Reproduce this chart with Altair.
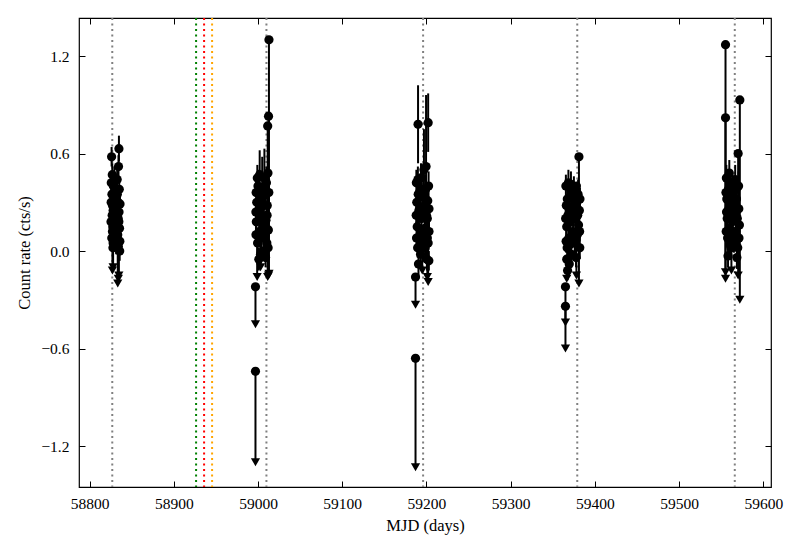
import altair as alt
import pandas as pd

# Each cluster: (MJD, count rate, error, upper-limit flag)
cluster1 = [
    (58826.2, 0.58, 0.06, 0), (58827.0, 0.47, 0.07, 0), (58826.6, 0.35, 0.08, 0),
    (58827.3, 0.28, 0.07, 0), (58826.9, 0.22, 0.06, 0), (58827.6, 0.15, 0.07, 0),
    (58826.4, 0.08, 0.06, 0), (58827.8, 0.02, 0.08, 0), (58828.3, 0.40, 0.07, 0),
    (58828.8, 0.31, 0.08, 0), (58829.2, 0.19, 0.06, 0), (58829.8, 0.10, 0.07, 0),
    (58830.4, 0.26, 0.08, 0), (58831.0, 0.36, 0.07, 0), (58831.6, 0.05, 0.07, 0),
    (58832.2, 0.21, 0.06, 0), (58832.8, 0.44, 0.08, 0), (58833.3, 0.13, 0.07, 0),
    (58833.8, 0.30, 0.06, 0), (58834.4, 0.52, 0.07, 0), (58834.9, 0.63, 0.08, 0),
    (58835.3, 0.38, 0.07, 0), (58835.8, 0.00, 0.06, 0), (58835.0, 0.24, 0.07, 0),
    (58825.8, 0.42, 0.07, 0), (58825.5, 0.18, 0.06, 0), (58825.7, 0.30, 0.07, 0),
    (58828.6, 0.12, 0.06, 0), (58830.0, 0.33, 0.07, 0), (58830.8, 0.16, 0.06, 0),
    (58831.4, 0.27, 0.07, 0), (58832.5, 0.09, 0.06, 0), (58833.0, 0.35, 0.07, 0),
    (58834.0, 0.20, 0.06, 0), (58835.6, 0.14, 0.07, 0), (58836.2, 0.29, 0.06, 0),
    (58836.0, 0.06, 0.07, 0), (58829.5, 0.45, 0.07, 0), (58828.0, 0.25, 0.06, 0),
    (58827.2, 0.12, 0.24, 1), (58828.0, 0.05, 0.15, 1), (58833.5, 0.10, 0.30, 1),
    (58834.2, 0.03, 0.20, 1), (58834.8, 0.18, 0.33, 1),
]
cluster2 = [
    (58997.0, -0.22, 0.23, 1), (58997.0, -0.74, 0.56, 1), (59013.0, 1.30, 1.44, 1),
    (59012.5, 0.83, 0.98, 1), (59011.5, 0.77, 0.93, 1), (58999.0, 0.10, 0.26, 1),
    (59003.0, 0.20, 0.30, 1),
    (58998.5, 0.30, 0.08, 0), (58998.0, 0.18, 0.07, 0), (58999.5, 0.05, 0.06, 0),
    (59000.0, 0.40, 0.10, 0), (59000.5, 0.25, 0.07, 0), (59001.0, -0.05, 0.07, 0),
    (59001.5, 0.12, 0.06, 0), (59002.0, 0.47, 0.15, 0), (59003.5, 0.33, 0.08, 0),
    (59004.0, 0.08, 0.07, 0), (59004.5, 0.22, 0.06, 0), (59005.0, 0.38, 0.20, 0),
    (59005.8, 0.15, 0.07, 0), (59006.5, 0.00, 0.06, 0), (59007.0, 0.28, 0.08, 0),
    (59007.6, 0.45, 0.18, 0), (59008.2, 0.10, 0.07, 0), (59008.8, 0.35, 0.08, 0),
    (59009.4, 0.19, 0.06, 0), (59010.0, 0.42, 0.10, 0), (59010.5, 0.05, 0.07, 0),
    (59011.0, 0.28, 0.09, 0), (59011.8, 0.48, 0.10, 0), (59012.3, 0.13, 0.08, 0),
    (58997.8, 0.36, 0.07, 0), (58997.5, 0.24, 0.06, 0), (58997.6, 0.10, 0.07, 0),
    (58999.2, 0.45, 0.08, 0), (59002.5, 0.30, 0.07, 0), (59003.0, -0.02, 0.06, 0),
    (59006.0, 0.34, 0.07, 0), (59009.0, -0.04, 0.06, 0), (59010.8, 0.22, 0.07, 0),
    (59012.8, 0.36, 0.08, 0), (59012.0, 0.02, 0.07, 0), (59008.0, 0.40, 0.08, 0),
]
cluster3 = [
    (59187.0, -0.66, 0.67, 1), (59187.0, -0.16, 0.17, 1), (59202.0, 0.05, 0.24, 1),
    (59201.0, 0.20, 0.36, 1), (59195.0, 0.10, 0.22, 1),
    (59190.0, 0.78, 0.24, 0), (59202.0, 0.79, 0.18, 0), (59199.5, 0.52, 0.44, 0),
    (59197.0, 0.50, 0.25, 0), (59188.0, 0.42, 0.08, 0), (59188.5, 0.30, 0.07, 0),
    (59189.0, 0.15, 0.07, 0), (59189.5, 0.02, 0.06, 0), (59190.5, -0.08, 0.07, 0),
    (59191.0, 0.25, 0.08, 0), (59192.0, 0.36, 0.07, 0), (59192.5, 0.10, 0.06, 0),
    (59193.0, -0.02, 0.07, 0), (59194.0, 0.20, 0.08, 0), (59195.5, 0.33, 0.07, 0),
    (59196.5, 0.05, 0.06, 0), (59197.5, 0.28, 0.08, 0), (59198.0, 0.14, 0.07, 0),
    (59199.0, 0.38, 0.09, 0), (59200.0, 0.22, 0.07, 0), (59200.5, -0.05, 0.07, 0),
    (59201.5, 0.31, 0.08, 0), (59202.5, 0.40, 0.09, 0), (59203.0, 0.12, 0.07, 0),
    (59193.5, 0.45, 0.09, 0),
    (59187.8, 0.22, 0.07, 0), (59188.2, 0.08, 0.06, 0), (59190.2, 0.35, 0.07, 0),
    (59191.5, 0.03, 0.06, 0), (59194.5, 0.38, 0.07, 0), (59196.0, 0.24, 0.06, 0),
    (59198.5, 0.02, 0.07, 0), (59199.8, 0.30, 0.06, 0), (59201.0, 0.08, 0.07, 0),
    (59203.0, 0.26, 0.07, 0), (59202.8, -0.06, 0.06, 0), (59189.8, 0.44, 0.08, 0),
]
cluster4 = [
    (59365.0, -0.34, 0.26, 1), (59365.0, -0.22, 0.22, 1), (59381.0, 0.58, 0.78, 1),
    (59378.0, 0.40, 0.55, 1), (59366.5, -0.05, 0.12, 1),
    (59365.5, 0.40, 0.07, 0), (59366.0, 0.28, 0.07, 0), (59366.5, 0.15, 0.06, 0),
    (59367.0, 0.02, 0.07, 0), (59367.5, -0.12, 0.06, 0), (59368.0, 0.22, 0.08, 0),
    (59368.5, 0.42, 0.08, 0), (59369.0, 0.08, 0.06, 0), (59370.0, 0.33, 0.07, 0),
    (59371.0, 0.18, 0.07, 0), (59372.0, -0.02, 0.06, 0), (59373.0, 0.26, 0.08, 0),
    (59374.0, 0.12, 0.07, 0), (59375.0, 0.38, 0.08, 0), (59376.0, 0.05, 0.06, 0),
    (59377.0, 0.20, 0.07, 0), (59378.5, 0.30, 0.08, 0), (59379.0, 0.10, 0.07, 0),
    (59380.0, 0.35, 0.09, 0), (59380.5, 0.16, 0.07, 0), (59381.5, 0.25, 0.08, 0),
    (59382.0, 0.02, 0.07, 0), (59369.5, -0.08, 0.07, 0),
    (59365.2, 0.20, 0.06, 0), (59365.8, 0.06, 0.07, 0), (59367.2, 0.32, 0.06, 0),
    (59370.5, 0.04, 0.07, 0), (59372.5, 0.36, 0.07, 0), (59374.5, 0.28, 0.06, 0),
    (59376.5, 0.30, 0.07, 0), (59377.5, -0.04, 0.06, 0), (59379.5, 0.22, 0.07, 0),
    (59381.8, 0.12, 0.06, 0), (59382.2, 0.32, 0.07, 0), (59371.5, 0.41, 0.08, 0),
]
cluster5 = [
    (59555.0, 1.27, 1.44, 1), (59555.0, 0.82, 0.95, 1), (59572.0, 0.93, 1.23, 1),
    (59570.0, 0.60, 0.75, 1), (59562.0, 0.10, 0.22, 1),
    (59556.0, 0.45, 0.08, 0), (59556.5, 0.32, 0.07, 0), (59557.0, 0.20, 0.07, 0),
    (59557.5, 0.08, 0.06, 0), (59558.0, -0.03, 0.07, 0), (59558.5, 0.38, 0.08, 0),
    (59559.0, 0.26, 0.07, 0), (59560.0, 0.14, 0.06, 0), (59561.0, 0.42, 0.08, 0),
    (59561.5, 0.02, 0.07, 0), (59562.5, 0.30, 0.07, 0), (59563.0, 0.18, 0.06, 0),
    (59564.0, 0.36, 0.08, 0), (59565.0, 0.06, 0.07, 0), (59566.0, 0.24, 0.07, 0),
    (59566.5, 0.44, 0.09, 0), (59567.0, 0.12, 0.06, 0), (59568.0, 0.32, 0.08, 0),
    (59568.5, -0.04, 0.07, 0), (59569.0, 0.20, 0.07, 0), (59570.5, 0.40, 0.09, 0),
    (59571.0, 0.08, 0.07, 0), (59559.5, 0.48, 0.08, 0),
    (59555.5, 0.36, 0.07, 0), (59555.8, 0.12, 0.06, 0), (59556.2, 0.24, 0.07, 0),
    (59557.8, 0.34, 0.06, 0), (59560.5, 0.04, 0.07, 0), (59563.5, 0.40, 0.07, 0),
    (59564.5, 0.22, 0.06, 0), (59567.5, 0.38, 0.07, 0), (59569.5, 0.02, 0.06, 0),
    (59570.8, 0.26, 0.07, 0), (59571.5, 0.16, 0.06, 0), (59565.5, 0.30, 0.07, 0),
]

vline_mjd = [58827, 59010, 59196, 59379, 59566, 58926.5, 58936, 58945.5]
vline_kind = ["grey", "grey", "grey", "grey", "grey", "green", "red", "orange"]

x_ticks = [58800, 58900, 59000, 59100, 59200, 59300, 59400, 59500, 59600]
y_ticks = [-1.2, -0.6, 0.0, 0.6, 1.2]

W, H = 692, 469

rows = cluster1 + cluster2 + cluster3 + cluster4 + cluster5
df = pd.DataFrame(rows, columns=["mjd", "rate", "err", "ul"])
df["lo"] = df["rate"] - df["err"]
df["hi"] = df["rate"] + df["err"]
normal = df[df["ul"] == 0]
limits = df[df["ul"] == 1]
vdf = pd.DataFrame({"mjd": vline_mjd, "kind": vline_kind})

xs = alt.Scale(domain=[58787.5, 59609], nice=False, zero=False)
ys = alt.Scale(domain=[-1.452, 1.434], nice=False, zero=False)

axA_x = alt.Axis(orient="bottom", values=x_ticks, format="d", ticks=False, tickSize=0,
                 domain=False, grid=False, labelPadding=9, titlePadding=6)
axA_y = alt.Axis(orient="left", values=y_ticks, ticks=False, tickSize=0,
                 labelExpr="replace(format(datum.value, '.1f'), '-', '\u2212')",
                 domain=False, grid=False, labelPadding=10, titlePadding=8)
axB_x = alt.Axis(orient="top", offset=-H, values=x_ticks, ticks=True, tickSize=6,
                 labels=False, domain=False, grid=False)
axB_y = alt.Axis(orient="right", offset=-W, values=y_ticks, ticks=True, tickSize=6,
                 labels=False, domain=False, grid=False)
axC_x = alt.Axis(orient="bottom", offset=-H, values=x_ticks, ticks=True, tickSize=6,
                 labels=False, domain=False, grid=False)
axC_y = alt.Axis(orient="left", offset=-W, values=y_ticks, ticks=True, tickSize=6,
                 labels=False, domain=False, grid=False)

vlines = alt.Chart(vdf).mark_rule(strokeDash=[2, 3.5], strokeWidth=2).encode(
    x=alt.X("mjd:Q", scale=xs, axis=None),
    color=alt.Color("kind:N", scale=alt.Scale(domain=["grey", "green", "red", "orange"],
                                              range=["#808080", "#008000", "#ff0000", "#ffa500"]),
                    legend=None),
)

errbars = alt.Chart(normal).mark_rule(color="black", strokeWidth=2).encode(
    x=alt.X("mjd:Q", scale=xs, axis=axA_x, title="MJD (days)"),
    y=alt.Y("lo:Q", scale=ys, axis=axA_y, title="Count rate (cts/s)"),
    y2="hi:Q",
)

ulbars = alt.Chart(limits).mark_rule(color="black", strokeWidth=2).encode(
    x=alt.X("mjd:Q", scale=xs, axis=axB_x, title=None),
    y=alt.Y("lo:Q", scale=ys, axis=axB_y, title=None),
    y2="rate:Q",
)

arrows = alt.Chart(limits).mark_point(shape="triangle-down", filled=True, color="black",
                                      size=85, opacity=1).encode(
    x=alt.X("mjd:Q", scale=xs, axis=None),
    y=alt.Y("lo:Q", scale=ys, axis=None),
)

points = alt.Chart(df).mark_circle(color="black", size=85, opacity=1).encode(
    x=alt.X("mjd:Q", scale=xs, axis=axC_x, title=None),
    y=alt.Y("rate:Q", scale=ys, axis=axC_y, title=None),
)

chart = alt.layer(vlines, errbars, ulbars, arrows, points).resolve_axis(
    x="independent", y="independent"
).properties(
    width=W, height=H,
    autosize=alt.AutoSizeParams(type="none"),
    padding={"left": 71, "top": 10, "right": 20, "bottom": 55},
).configure_view(
    stroke="black", strokeWidth=1.2
).configure_axis(
    labelFont="Liberation Serif", titleFont="Liberation Serif",
    labelFontSize=15.5, titleFontSize=16.5, labelColor="black", titleColor="black",
    titleFontWeight="normal", tickColor="black", tickWidth=1,
)

chart.save("out.html", embed_options={"renderer": "svg", "actions": False})
